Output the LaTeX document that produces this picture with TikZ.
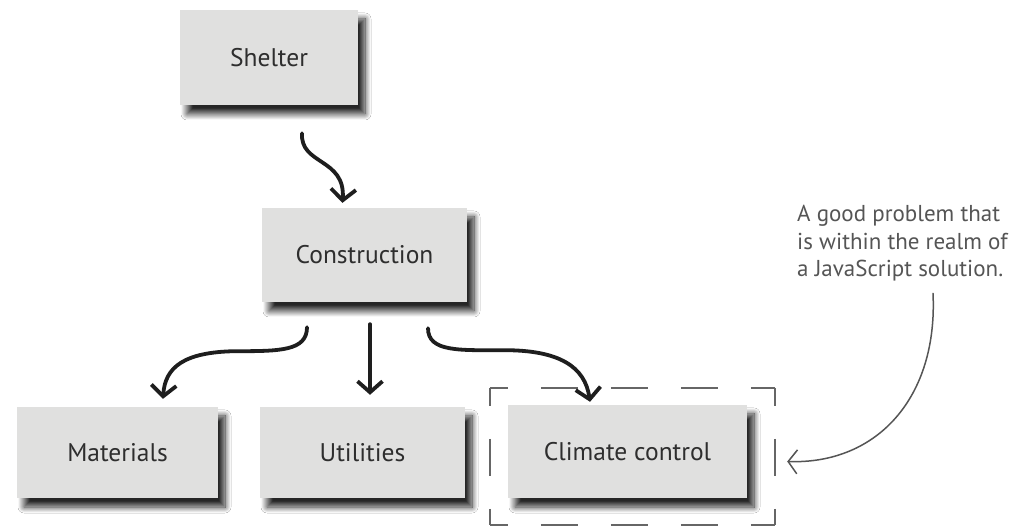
\documentclass[tikz,border=0pt]{standalone}
\usepackage{fontspec}
\setmainfont{PT Sans}
\usetikzlibrary{arrows.meta,shadows.blur,calc}
\definecolor{boxfill}{HTML}{E0E0DF}
\definecolor{inktext}{HTML}{2E2E2E}
\definecolor{arrowink}{HTML}{1E1E1E}
\definecolor{noteink}{HTML}{555555}
\tikzset{
  topic/.style={fill=boxfill, inner sep=0pt, text=inktext, font=\fontsize{25.5}{30}\selectfont,
    blur shadow={shadow xshift=7pt, shadow yshift=-9pt, shadow blur radius=6pt, shadow blur steps=12, shadow opacity=85}},
  flow/.style={draw=arrowink, line width=3.8pt, line cap=round, -{Straight Barb[length=11pt,width=25pt,line width=3.8pt]}},
  note/.style={draw=noteink, line width=1.5pt, line cap=round, -{Straight Barb[length=9pt,width=24pt,line width=1.5pt]}},
  dashside/.style={draw=noteink!90, line width=2.2pt, dash pattern=on 37pt off 33pt, dash phase=19pt}
}
\begin{document}
\begin{tikzpicture}[x=1pt,y=1pt]
\useasboundingbox[fill=white] (0,0) rectangle (1032,527);
\node[topic, minimum width=178pt, minimum height=95pt] (shelter) at (269,469.5) {Shelter};
\node[topic, minimum width=205pt, minimum height=94pt] (construction) at (364.5,272) {Construction};
\node[topic, minimum width=201pt, minimum height=91pt] (materials) at (117.5,74.5) {Materials};
\node[topic, minimum width=205pt, minimum height=91pt] (utilities) at (362.5,74.5) {Utilities};
\node[topic, minimum width=239pt, minimum height=93pt] (climate) at (627.5,75.5) {Climate control};
% dashed frame round climate control
\coordinate (fbl) at ($(climate.south west)+(-18,-27)$);
\coordinate (ftr) at ($(climate.north east)+(28,17)$);
\coordinate (ftl) at (fbl|-ftr);
\coordinate (fbr) at (ftr|-fbl);
\draw[dashside] (ftl) -- (ftr);
\draw[dashside] (fbl) -- (fbr);
\draw[dashside] (ftl) -- (fbl);
\draw[dashside] (ftr) -- (fbr);
% flows
\draw[flow] ($(shelter.south)+(33,-28)$) .. controls +(-2,-32) and +(3,45) .. ($(construction.north)+(-22,5)$);
\draw[flow] ($(construction.south)+(-57.5,-25)$) .. controls +(0,-24) and +(45,0) .. ($(construction.south)+(-130,-49)$)
  .. controls +(-50,-1) and +(2,32) .. ($(materials.north)+(45.5,8)$);
\draw[flow] ($(construction.south)+(5.5,-22)$) -- ($(utilities.north)+(7.5,12)$);
\draw[flow] ($(construction.south)+(63.5,-26)$) .. controls +(0,-24) and +(-45,0) .. ($(construction.south)+(140,-48)$)
  .. controls +(55,0) and +(-5,35) .. ($(climate.north)+(-37.5,3)$);
% annotation
\node[anchor=north west, align=left, inner sep=0pt, text=noteink, font=\fontsize{23}{27.5}\selectfont] (note) at (797,322)
  {A good problem that\\is within the realm of\\a JavaScript solution.};
\draw[note] ($(note.south west)+(136,-12)$) .. controls +(5,-104) and +(90,-3) .. ($(ftr|-climate.center)+(12,-10)$);
\end{tikzpicture}
\end{document}
